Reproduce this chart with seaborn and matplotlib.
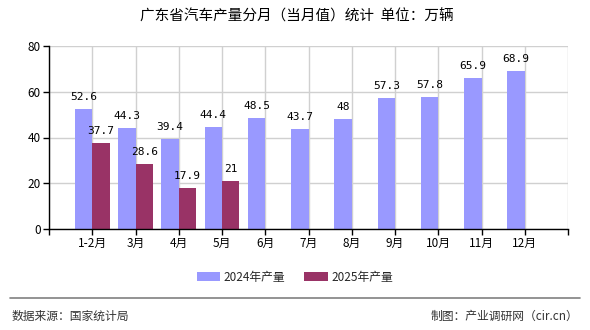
import numpy as np
import pandas as pd
import matplotlib
matplotlib.use("Agg")
import matplotlib.pyplot as plt
from matplotlib.patches import Patch
from matplotlib.lines import Line2D
import seaborn as sns

months = ["1-2月", "3月", "4月", "5月", "6月", "7月", "8月", "9月", "10月", "11月", "12月"]
output_2024 = [52.6, 44.3, 39.4, 44.4, 48.5, 43.7, 48, 57.3, 57.8, 65.9, 68.9]
output_2025 = [37.7, 28.6, 17.9, 21]
series_names = ["2024年产量", "2025年产量"]
colors = ["#9999FF", "#993366"]

rows = []
for m, v in zip(months, output_2024):
    rows.append({"月份": m, "产量": v, "系列": series_names[0]})
for m, v in zip(months, output_2025):
    rows.append({"月份": m, "产量": v, "系列": series_names[1]})
df = pd.DataFrame(rows)

sns.set_theme(style="white")
plt.rcParams["font.family"] = ["Noto Sans CJK SC", "DejaVu Sans"]

W, H = 590, 330
fig = plt.figure(figsize=(W / 100, H / 100), dpi=100)
ax = fig.add_axes([49 / W, 1 - 229 / H, (568 - 49) / W, (229 - 46) / H])

sns.barplot(data=df, x="月份", y="产量", hue="系列", order=months,
            hue_order=series_names, palette=colors, width=0.8,
            saturation=1, ax=ax, legend=False, errorbar=None,
            linewidth=0, edgecolor="none")

for cont, vals in zip(ax.containers, [output_2024, output_2025]):
    ax.bar_label(cont, labels=[f"{v:g}" for v in vals], padding=5,
                 fontsize=8, family="DejaVu Sans Mono", color="#000000")

ax.set_xlim(-1, 11)
ax.set_ylim(0, 80)
ax.set_yticks([0, 20, 40, 60, 80])
ax.set_xticks(range(-1, 12))
ax.set_xticklabels([""] + months + [""])
ax.set_xlabel("")
ax.set_ylabel("")
ax.grid(True, color="#d0d0d0", linewidth=1)
ax.set_axisbelow(True)
for side in ["top", "right"]:
    ax.spines[side].set_visible(False)
for side in ["left", "bottom"]:
    ax.spines[side].set_color("#000000")
    ax.spines[side].set_linewidth(1)
ax.tick_params(axis="both", direction="out", length=4, width=1, color="#000000",
               labelsize=8.5, labelcolor="#000000", pad=2, left=True, bottom=True)

fig.text(297 / W, 1 - 16 / H, "广东省汽车产量分月（当月值）统计  单位：万辆",
         ha="center", va="center", fontsize=10.5, color="#000000")

handles = [Patch(facecolor=c, edgecolor="none") for c in colors]
fig.legend(handles, series_names, loc="center", bbox_to_anchor=(0.5, 1 - 277 / H),
           ncol=2, frameon=False, fontsize=8.5, handlelength=2.0, handleheight=0.8,
           columnspacing=1.6, handletextpad=0.3)

fig.add_artist(Line2D([10 / W, 580 / W], [1 - 298 / H, 1 - 298 / H],
                      color="#808080", linewidth=1.2))
fig.text(12 / W, 1 - 316 / H, "数据来源：国家统计局", ha="left", va="center",
         fontsize=8.5, color="#333333")
fig.text(578 / W, 1 - 316 / H, "制图：产业调研网（cir.cn）", ha="right", va="center",
         fontsize=8.5, color="#333333")

fig.savefig("out.png", dpi=100, facecolor="white")
